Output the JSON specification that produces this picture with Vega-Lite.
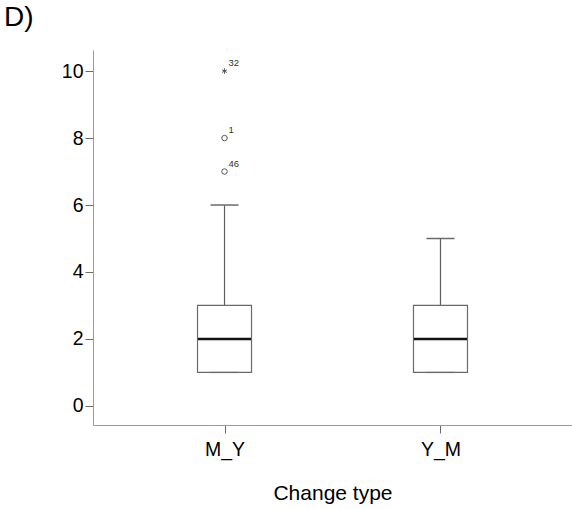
{
  "$schema": "https://vega.github.io/schema/vega-lite/v6.json",
  "width": 479,
  "height": 375,
  "autosize": {"type": "none"},
  "padding": {"left": 93, "top": 50, "right": 0, "bottom": 84},
  "background": "white",
  "title": {
    "text": "D)",
    "anchor": "start",
    "frame": "group",
    "dx": -89,
    "offset": 18,
    "fontSize": 28,
    "fontWeight": "normal",
    "font": "Liberation Sans",
    "color": "#000000"
  },
  "config": {
    "view": {"stroke": null},
    "font": "Liberation Sans",
    "axis": {
      "grid": false,
      "domainColor": "#9a9a9a",
      "tickColor": "#6a6a6a",
      "labelColor": "#000000",
      "labelFont": "Liberation Sans",
      "titleFont": "Liberation Sans",
      "labelFontSize": 19.5,
      "titleFontSize": 21,
      "titleFontWeight": "normal",
      "titleColor": "#000000"
    }
  },
  "datasets": {
    "boxes": [
      {"type": "M_Y", "lower": 1, "q1": 1, "median": 2, "q3": 3, "upper": 6},
      {"type": "Y_M", "lower": 1, "q1": 1, "median": 2, "q3": 3, "upper": 5}
    ],
    "outliers": [
      {"type": "M_Y", "value": 10, "id": "32", "kind": "extreme"},
      {"type": "M_Y", "value": 8, "id": "1", "kind": "outlier"},
      {"type": "M_Y", "value": 7, "id": "46", "kind": "outlier"}
    ]
  },
  "encoding": {
    "x": {
      "field": "type",
      "type": "nominal",
      "scale": {"type": "point", "domain": ["M_Y", "Y_M"], "padding": 0.609},
      "axis": {
        "title": "Change type",
        "labelAngle": 0,
        "tickSize": 8,
        "labelPadding": 7,
        "titlePadding": 24
      }
    }
  },
  "layer": [
    {
      "data": {"name": "boxes"},
      "mark": {"type": "rule", "color": "#5e5e5e", "strokeWidth": 1.2},
      "encoding": {
        "y": {
          "field": "q3",
          "type": "quantitative",
          "scale": {"domain": [-0.57, 10.63], "nice": false, "zero": false},
          "axis": {
            "title": null,
            "values": [0, 2, 4, 6, 8, 10],
            "tickSize": 8,
            "labelPadding": 2
          }
        },
        "y2": {"field": "upper"}
      }
    },
    {
      "data": {"name": "boxes"},
      "mark": {"type": "tick", "color": "#6a6a6a", "opacity": 1, "size": 28, "thickness": 1.5, "orient": "horizontal"},
      "encoding": {"y": {"field": "upper", "type": "quantitative"}}
    },
    {
      "data": {"name": "boxes"},
      "mark": {"type": "tick", "color": "#b0b0b0", "opacity": 1, "size": 28, "thickness": 1.5, "orient": "horizontal"},
      "encoding": {"y": {"field": "lower", "type": "quantitative"}}
    },
    {
      "data": {"name": "boxes"},
      "mark": {"type": "bar", "size": 54, "fill": "white", "fillOpacity": 0, "stroke": "#6a6a6a", "strokeWidth": 1.2},
      "encoding": {
        "y": {"field": "q1", "type": "quantitative"},
        "y2": {"field": "q3"}
      }
    },
    {
      "data": {"name": "boxes"},
      "mark": {"type": "tick", "color": "#111111", "opacity": 1, "size": 53, "thickness": 2.5, "orient": "horizontal"},
      "encoding": {"y": {"field": "median", "type": "quantitative"}}
    },
    {
      "data": {"name": "outliers"},
      "mark": {"type": "point", "filled": false, "strokeWidth": 1, "color": "#555555", "opacity": 1, "size": 30},
      "encoding": {
        "y": {"field": "value", "type": "quantitative"},
        "shape": {
          "field": "kind",
          "type": "nominal",
          "scale": {
            "domain": ["outlier", "extreme"],
            "range": ["circle", "M0,-1L0,1M-0.87,-0.5L0.87,0.5M-0.87,0.5L0.87,-0.5"]
          },
          "legend": null
        }
      }
    },
    {
      "data": {"name": "outliers"},
      "mark": {"type": "text", "align": "left", "baseline": "middle", "dx": 4, "dy": -8, "fontSize": 9.5, "color": "#333333"},
      "encoding": {
        "y": {"field": "value", "type": "quantitative"},
        "text": {"field": "id", "type": "nominal"}
      }
    }
  ]
}
